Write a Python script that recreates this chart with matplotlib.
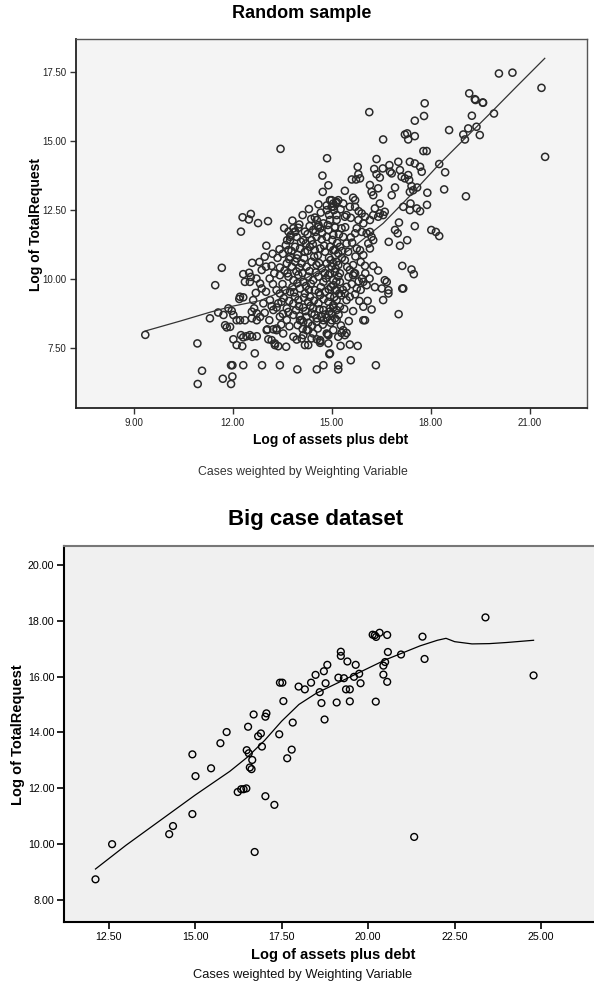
import numpy as np
import matplotlib
matplotlib.use("Agg")
import matplotlib.pyplot as plt

plt.rcParams["font.family"] = ["Liberation Sans", "DejaVu Sans"]

# ---- Random sample (top panel) ----
rand_pts = [
    # upper outliers
    (13.45, 14.72), (14.86, 14.38), (14.72, 13.75), (14.90, 13.40), (14.73, 13.16),
    (14.60, 12.71), (14.31, 12.54), (14.85, 12.67), (15.00, 12.62), (15.13, 12.76),
    (15.07, 12.50), (14.49, 12.23), (14.55, 12.14),
    (12.30, 12.24), (12.55, 12.36), (12.49, 12.16), (12.77, 12.03), (13.07, 12.10), (12.25, 11.72),
    (13.99, 11.86), (13.89, 11.71), (13.76, 11.59), (13.65, 11.41),
    (14.59, 11.89), (14.65, 11.84), (14.90, 11.78), (15.10, 11.87),
    (11.67, 10.41), (11.47, 9.78), (12.59, 10.59), (12.97, 10.81), (13.36, 10.77),
    # left-middle
    (12.32, 10.18), (12.50, 10.23), (12.55, 10.08), (12.37, 9.90), (12.52, 9.90),
    (12.88, 10.33), (13.01, 10.45), (13.18, 10.48), (13.43, 10.42), (13.26, 10.21),
    (13.43, 10.14), (12.83, 9.84), (13.01, 9.54), (13.13, 9.24), (13.33, 9.60),
    (12.70, 9.50), (12.62, 9.24), (12.65, 8.94), (12.73, 8.76), (12.58, 8.82),
    (12.22, 9.36), (12.32, 9.34), (12.20, 9.28),
    (11.87, 8.94), (11.97, 8.85), (12.02, 8.70), (11.56, 8.79), (11.31, 8.58),
    (11.72, 8.70), (11.77, 8.33), (11.92, 8.27), (11.82, 8.25), (12.12, 8.51),
    (12.22, 8.51), (12.37, 8.51), (12.58, 8.58), (12.73, 8.51), (12.83, 8.63),
    (13.11, 8.51), (13.05, 8.18), (13.23, 8.18), (13.33, 8.21),
    # left-low
    (12.02, 7.82), (12.12, 7.61), (12.25, 7.97), (12.32, 7.89), (12.42, 7.93),
    (12.52, 7.97), (12.59, 7.91), (12.73, 7.93), (12.29, 7.57), (13.03, 8.15),
    (13.08, 7.82), (13.18, 7.79), (13.28, 7.61), (13.38, 7.57), (13.28, 7.67),
    (12.67, 7.31), (13.62, 7.55),
    (9.35, 7.98), (10.93, 7.67), (11.07, 6.68), (10.94, 6.20), (11.70, 6.39),
    (11.95, 6.88), (11.99, 6.88), (11.99, 6.47), (11.95, 6.20), (12.32, 6.88),
    (12.89, 6.88), (13.43, 6.88), (13.96, 6.73), (14.55, 6.73), (14.75, 6.88),
    (15.20, 6.88), (15.20, 6.73), (14.95, 7.31), (15.58, 7.06), (16.34, 6.88),
    # dense core
    (13.74, 11.53), (13.89, 11.72), (14.14, 11.41), (14.22, 11.29), (14.39, 11.41),
    (14.54, 11.53), (14.70, 11.44), (14.85, 11.53), (15.05, 11.60),
    (13.69, 11.05), (13.89, 11.17), (14.04, 11.11), (14.19, 10.99), (14.34, 11.17),
    (14.49, 11.05), (14.65, 11.11), (14.80, 10.99), (14.95, 11.17), (15.10, 11.05),
    (13.74, 10.81), (13.94, 10.75),
    (13.64, 10.57), (13.79, 10.45), (13.89, 10.63), (14.09, 10.57), (14.24, 10.45),
    (14.39, 10.63), (14.54, 10.51), (14.70, 10.39), (14.85, 10.57), (15.00, 10.45),
    (15.15, 10.63),
    (13.69, 10.09), (13.84, 9.96), (13.99, 10.15), (14.14, 9.90), (14.29, 10.09),
    (14.44, 9.96), (14.60, 10.09), (14.75, 9.90), (14.90, 10.15), (15.05, 9.96),
    (15.20, 10.09),
    (13.43, 9.48), (13.59, 9.60), (13.74, 9.54), (13.89, 9.36), (14.04, 9.66),
    (14.19, 9.48), (14.34, 9.36), (14.49, 9.60), (14.65, 9.42), (14.80, 9.54),
    (14.95, 9.36), (15.10, 9.60), (15.23, 9.48),
    (13.33, 8.97), (13.48, 9.18), (13.64, 8.94), (13.84, 9.12), (13.99, 9.24),
    (14.14, 8.97), (14.29, 9.18), (14.44, 8.94), (14.60, 9.12), (14.75, 8.88),
    (14.90, 9.18), (15.05, 8.97),
    (13.43, 8.64), (13.64, 8.52), (13.84, 8.70), (14.09, 8.52), (14.24, 8.64),
    (14.39, 8.76), (14.54, 8.45), (14.70, 8.64), (14.85, 8.60), (15.00, 8.76),
    (15.15, 8.52),
    (13.33, 8.15), (13.53, 8.03), (13.84, 7.91), (13.94, 7.81), (14.14, 7.97),
    (14.29, 8.15), (14.44, 8.03), (14.65, 7.79), (14.85, 8.03), (15.05, 8.15),
    (15.20, 7.91),
    (14.19, 7.61), (14.29, 7.61), (14.65, 7.69), (14.90, 7.67),
    (13.69, 11.72), (13.84, 11.84), (13.74, 11.41), (13.94, 11.53), (14.19, 11.72),
    (14.44, 11.78), (14.60, 11.96), (14.75, 12.02), (14.95, 12.14), (15.15, 12.32),
    (14.85, 12.50), (15.05, 12.74), (15.20, 12.86), (15.00, 12.86),
    # dense core, second pass
    (13.52, 10.92), (13.61, 11.23), (13.78, 11.02), (13.97, 10.88), (14.07, 11.35),
    (14.27, 11.02), (14.43, 11.26), (14.58, 10.86), (14.77, 11.21), (14.92, 10.78),
    (15.17, 11.31), (15.32, 11.02),
    (13.57, 10.31), (13.71, 10.72), (13.93, 10.28), (14.02, 10.41), (14.17, 10.76),
    (14.33, 10.29), (14.47, 10.81), (14.62, 10.58), (14.79, 10.22), (14.97, 10.69),
    (15.12, 10.38), (15.31, 10.77), (15.47, 10.44),
    (13.51, 9.82), (13.66, 10.21), (13.81, 9.71), (13.96, 9.85), (14.11, 10.22),
    (14.22, 9.75), (14.37, 9.83), (14.52, 10.24), (14.67, 9.71), (14.83, 10.03),
    (14.98, 9.72), (15.14, 9.91), (15.34, 9.61), (15.51, 10.08),
    (13.38, 9.12), (13.55, 9.31), (13.71, 9.21), (13.86, 9.52), (14.01, 9.02),
    (14.16, 9.33), (14.31, 9.62), (14.46, 9.22), (14.61, 9.52), (14.76, 9.27),
    (14.91, 9.63), (15.08, 9.35), (15.29, 9.41),
    (13.52, 8.74), (13.69, 8.81), (13.92, 8.87), (14.03, 8.66), (14.21, 8.84),
    (14.36, 9.03), (14.48, 8.71), (14.63, 8.91), (14.81, 8.72), (14.93, 8.82),
    (15.21, 8.71), (15.38, 8.92),
    (13.47, 8.35), (13.72, 8.29), (13.97, 8.33), (14.12, 8.19), (14.41, 8.31),
    (14.58, 8.21), (14.73, 8.35), (14.97, 8.42), (15.28, 8.32), (15.52, 8.48),
    (13.56, 11.85), (13.81, 12.12), (14.02, 11.98), (14.27, 11.63), (14.33, 11.92),
    (14.51, 11.71), (14.71, 11.66), (14.88, 11.96), (15.02, 11.42), (15.22, 11.62),
    (15.41, 11.88), (15.58, 11.51),
    (14.12, 12.32), (14.38, 12.18), (14.67, 12.41), (14.92, 12.33), (15.27, 12.53),
    (15.58, 12.22), (15.82, 12.46),
    (15.62, 11.32), (15.72, 10.82), (15.88, 10.62), (16.02, 10.21), (15.92, 10.02),
    (15.82, 9.92), (15.61, 9.82), (15.71, 9.45), (15.88, 9.61), (16.15, 10.02),
    (16.31, 9.71), (16.41, 10.31),
    (12.93, 9.12), (13.18, 9.02), (12.97, 8.78), (13.23, 8.88), (12.88, 9.66),
    (13.22, 9.82), (13.12, 10.02), (12.72, 10.02), (13.42, 11.08), (13.21, 10.92),
    (12.81, 10.62), (13.02, 11.21),
    # lower middle
    (14.09, 7.85), (14.39, 7.85), (14.55, 7.82), (14.93, 7.28), (14.88, 8.00),
    (14.24, 8.15), (14.04, 8.51), (14.14, 8.45), (14.29, 8.42), (14.55, 8.58),
    (14.75, 8.51), (14.65, 7.75), (15.30, 8.05), (15.40, 7.97), (14.90, 7.97),
    (15.35, 8.15), (15.45, 8.05), (15.27, 7.58), (15.55, 7.63), (15.79, 7.58),
    # right side
    (16.14, 16.05), (17.82, 16.37), (17.80, 15.91), (17.52, 15.74), (19.36, 16.49),
    (19.59, 16.39), (19.25, 15.92), (18.56, 15.40), (19.14, 15.46), (19.39, 15.52),
    (18.99, 15.24), (19.04, 15.06), (19.49, 15.22), (16.56, 15.06), (17.22, 15.24),
    (17.29, 15.28), (17.32, 15.06), (17.52, 15.18), (17.78, 14.64), (17.88, 14.64),
    (16.36, 14.35), (18.26, 14.17), (18.44, 13.87), (18.41, 13.25), (19.07, 13.00),
    (17.90, 13.13), (17.89, 12.69), (17.52, 11.92), (18.02, 11.78), (18.16, 11.71),
    (18.26, 11.56), (17.68, 12.46), (17.58, 12.56), (17.37, 12.50), (17.39, 12.74),
    (17.17, 12.62), (17.29, 11.41), (17.07, 11.21), (17.04, 12.05), (16.92, 11.78),
    (17.00, 11.66), (16.73, 11.35), (17.14, 10.48), (17.42, 10.35), (17.49, 10.18),
    (17.14, 9.66), (17.17, 9.66), (17.03, 8.73), (16.61, 9.96), (16.67, 9.90),
    (16.72, 9.60), (16.72, 9.48), (16.56, 9.24), (16.52, 9.66), (16.21, 8.90),
    (16.01, 8.51), (15.96, 8.51), (16.09, 9.21), (15.96, 9.00), (15.84, 9.21),
    (15.65, 8.84), (16.26, 10.48), (16.01, 10.48), (15.65, 10.14), (15.68, 10.21),
    (20.07, 17.45), (20.48, 17.48), (21.36, 16.93), (21.47, 14.43), (19.17, 16.73),
    (19.34, 16.52), (19.58, 16.40), (19.92, 16.00),
    (16.75, 14.13), (16.82, 13.83), (16.77, 13.89), (17.07, 13.95), (17.12, 13.71),
    (17.22, 13.65), (17.35, 13.59), (17.32, 13.77), (17.37, 14.25), (17.52, 14.19),
    (17.68, 14.07), (17.73, 13.89), (17.02, 14.25),
    (16.55, 14.01), (16.36, 13.80), (16.29, 13.99), (16.46, 13.68), (15.79, 14.07),
    (15.81, 13.80), (15.74, 13.61), (15.61, 13.61), (15.86, 13.65), (16.16, 13.41),
    (16.21, 13.16), (16.26, 13.04), (16.41, 13.29), (16.92, 13.32), (16.82, 13.04),
    (17.42, 13.37), (17.47, 13.22), (17.59, 13.32), (17.37, 13.16), (15.40, 13.20),
    (15.65, 12.95), (15.71, 12.86),
    (16.46, 12.74), (16.31, 12.56), (16.46, 12.38), (16.56, 12.32), (16.41, 12.26),
    (16.61, 12.44), (16.26, 12.32), (16.16, 12.14), (16.01, 12.26), (15.91, 12.38),
    (15.81, 12.14), (15.96, 12.02), (15.71, 12.62), (15.55, 12.62), (15.35, 12.74),
    (15.15, 12.80), (15.05, 12.62), (14.95, 12.86), (15.40, 12.26), (15.45, 12.32),
    (15.15, 12.14), (15.10, 11.89), (15.30, 11.84), (15.76, 11.84), (15.91, 11.71),
    (16.06, 11.66), (15.71, 11.66), (16.16, 11.71), (16.21, 11.53), (16.26, 11.41),
    (16.11, 11.29), (16.16, 11.11),
    (15.35, 11.53), (15.45, 11.29), (15.25, 11.17), (15.05, 11.05), (15.20, 10.93),
    (15.50, 10.99), (15.86, 11.05), (15.96, 10.87), (15.76, 11.11), (15.40, 10.69),
    (15.20, 10.51), (15.05, 10.57), (15.65, 10.51), (15.71, 10.21), (15.55, 10.33),
    (15.25, 10.21), (15.10, 10.26), (14.95, 10.21),
    (15.96, 9.90), (16.06, 9.78), (15.76, 9.66), (15.45, 9.72), (15.25, 9.90),
    (15.15, 9.60), (15.05, 9.78), (15.40, 9.48), (15.15, 9.24), (15.25, 9.00),
    (15.05, 9.06), (15.45, 9.24), (15.55, 9.36), (14.95, 8.94), (15.00, 8.51),
    (15.10, 8.58), (15.15, 8.88),
]
rand_x = [p[0] for p in rand_pts]
rand_y = [p[1] for p in rand_pts]

# fit line (top)
rand_fit_x = [9.35, 10.41, 11.31, 12.0, 12.83, 13.5, 14.25, 15.0, 15.75, 16.56,
              17.4, 18.28, 19.0, 19.8, 20.6, 21.46]
rand_fit_y = [8.12, 8.48, 8.80, 9.02, 9.22, 9.55, 10.05, 10.6, 11.25, 12.02,
              13.05, 14.19, 15.05, 16.0, 16.97, 18.0]

# ---- Big case dataset (bottom panel) ----
big_x = [12.12, 12.60, 14.25, 14.36, 14.92, 14.92, 15.01, 15.46, 15.73, 15.91,
         16.23, 16.33, 16.40, 16.48, 16.53, 16.49, 16.55, 16.58, 16.63, 16.65,
         16.69, 16.72, 16.82, 16.90, 16.93, 17.03, 17.06, 17.03, 17.29, 17.43,
         17.55, 17.66, 17.79, 17.82, 17.45, 17.52,
         18.17, 18.60, 18.65, 19.09, 19.47, 19.36, 19.47, 20.22, 18.74, 21.33,
         23.39, 24.78, 20.13, 20.19, 20.23, 20.33, 20.55, 21.57, 21.63, 20.57,
         20.95, 20.49, 20.44, 20.44, 20.55, 19.21, 19.21, 19.40, 19.64, 18.82,
         18.72, 18.48, 18.35, 17.99, 18.77, 19.14, 19.30, 19.59, 19.74, 19.78]
big_y = [8.73, 9.99, 10.35, 10.64, 11.07, 13.21, 12.43, 12.71, 13.61, 14.01,
         11.86, 11.96, 11.96, 11.99, 14.20, 13.36, 13.25, 12.74, 12.68, 13.01,
         14.64, 9.71, 13.86, 13.96, 13.49, 11.71, 14.68, 14.56, 11.40, 13.93,
         15.12, 13.07, 13.38, 14.35, 15.78, 15.78,
         15.54, 15.44, 15.05, 15.07, 15.11, 15.54, 15.54, 15.10, 14.46, 10.25,
         18.12, 16.04, 17.50, 17.48, 17.42, 17.57, 17.49, 17.43, 16.63, 16.88,
         16.79, 16.52, 16.39, 16.07, 15.81, 16.89, 16.74, 16.54, 16.42, 16.42,
         16.19, 16.06, 15.78, 15.64, 15.76, 15.96, 15.94, 15.99, 16.10, 15.76]

big_fit_x = [12.12, 13.0, 14.0, 15.0, 16.0, 16.5, 17.0, 17.5, 18.0, 18.5, 19.0,
             19.5, 20.0, 20.5, 21.0, 21.5, 22.0, 22.25, 22.5, 23.0, 23.5, 24.0, 24.78]
big_fit_y = [9.10, 9.95, 10.85, 11.75, 12.6, 13.1, 13.7, 14.4, 15.0, 15.4, 15.7,
             16.0, 16.3, 16.6, 16.85, 17.1, 17.3, 17.37, 17.25, 17.17, 17.18, 17.22, 17.3]

W, H = 594, 985
fig = plt.figure(figsize=(W / 100, H / 100), dpi=100)


def fx(px):
    return px / W


def fy(py):
    return 1 - py / H


# top panel
ax1 = fig.add_axes([fx(76), fy(408), fx(587) - fx(76), fy(39) - fy(408)])
ax1.set_facecolor("#f4f4f4")
ax1.scatter(rand_x, rand_y, s=26, facecolors="none", edgecolors="#2a2a2a", linewidths=1.1, zorder=3)
ax1.plot(rand_fit_x, rand_fit_y, color="#333333", lw=0.9, zorder=4)
ax1.set_xlim(7.25, 22.74)
ax1.set_ylim(5.33, 18.7)
ax1.set_xticks([9, 12, 15, 18, 21])
ax1.set_yticks([7.5, 10, 12.5, 15, 17.5])
ax1.set_xticklabels(["%.2f" % v for v in [9, 12, 15, 18, 21]])
ax1.set_yticklabels(["%.2f" % v for v in [7.5, 10, 12.5, 15, 17.5]])
ax1.tick_params(labelsize=7, length=4, width=1, color="#333333", pad=3, labelcolor="#222222")
for side in ["left", "bottom"]:
    ax1.spines[side].set_color("#222222")
    ax1.spines[side].set_linewidth(1.3)
for side in ["top", "right"]:
    ax1.spines[side].set_color("#555555")
    ax1.spines[side].set_linewidth(1.0)

fig.text(fx(302), fy(14), "Random sample", ha="center", va="center", fontsize=13, fontweight="bold")
fig.text(fx(36), fy(224), "Log of TotalRequest", ha="center", va="center", rotation=90,
         fontsize=10, fontweight="bold")
fig.text(fx(331), fy(440), "Log of assets plus debt", ha="center", va="center",
         fontsize=10, fontweight="bold")
fig.text(fx(303), fy(472), "Cases weighted by Weighting Variable", ha="center", va="center",
         fontsize=8.8, color="#333333")

# bottom panel
ax2 = fig.add_axes([fx(64), fy(922), fx(600) - fx(64), fy(546) - fy(922)])
ax2.set_facecolor("#f0f0f0")
ax2.scatter(big_x, big_y, s=24, facecolors="none", edgecolors="black", linewidths=1.0, zorder=3)
ax2.plot(big_fit_x, big_fit_y, color="black", lw=0.9, zorder=4)
ax2.set_xlim(11.21, 26.7)
ax2.set_ylim(7.2, 20.68)
ax2.set_xticks([12.5, 15, 17.5, 20, 22.5, 25])
ax2.set_yticks([8, 10, 12, 14, 16, 18, 20])
ax2.set_xticklabels(["%.2f" % v for v in [12.5, 15, 17.5, 20, 22.5, 25]])
ax2.set_yticklabels(["%.2f" % v for v in [8, 10, 12, 14, 16, 18, 20]])
ax2.tick_params(labelsize=7.7, length=5, width=1.2, color="black", pad=2)
for side in ["left", "bottom"]:
    ax2.spines[side].set_color("black")
    ax2.spines[side].set_linewidth(1.5)
ax2.spines["top"].set_color("#777777")
ax2.spines["top"].set_linewidth(1.5)
ax2.spines["right"].set_visible(False)

fig.text(fx(316), fy(520), "Big case dataset", ha="center", va="center", fontsize=16, fontweight="bold")
fig.text(fx(18), fy(735), "Log of TotalRequest", ha="center", va="center", rotation=90,
         fontsize=10.5, fontweight="bold")
fig.text(fx(333), fy(955), "Log of assets plus debt", ha="center", va="center",
         fontsize=10.5, fontweight="bold")
fig.text(fx(303), fy(975), "Cases weighted by Weighting Variable", ha="center", va="center",
         fontsize=9.3, color="#111111")

fig.savefig("out.png", dpi=100)
